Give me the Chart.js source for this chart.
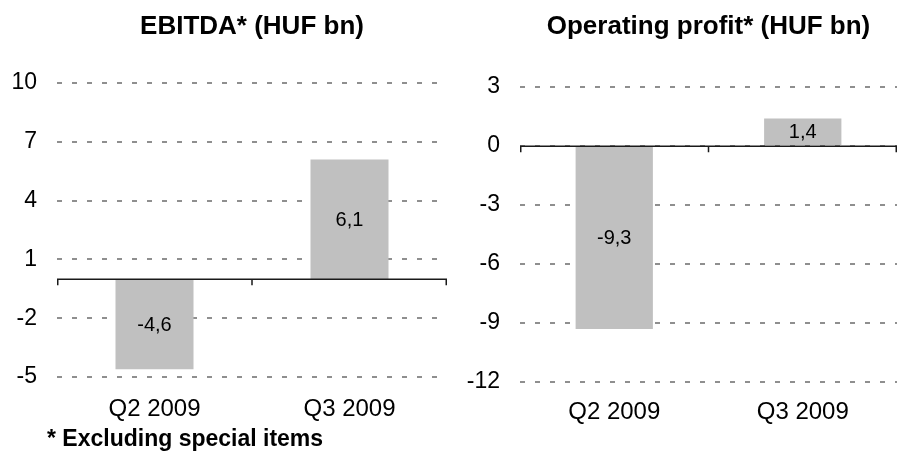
<!DOCTYPE html>
<html>
<head>
<meta charset="utf-8">
<script src="https://cdn.jsdelivr.net/npm/chart.js@4/dist/chart.umd.min.js"></script>
<style>
  html, body { margin: 0; padding: 0; background: #fff; }
  #wrap { position: relative; width: 897px; height: 451px; overflow: hidden; }
  #c1 { position: absolute; left: 0; top: 0; }
  #c2 { position: absolute; left: 450px; top: 0; }
</style>
</head>
<body>
<div id="wrap">
  <canvas id="c1" width="450" height="451"></canvas>
  <canvas id="c2" width="447" height="451"></canvas>
</div>
<script>
// ---- data ----
const categories = ['Q2 2009', 'Q3 2009'];
const ebitdaValues = [-4.6, 6.1];
const opProfitValues = [-9.3, 1.4];
const ebitdaTicks = { min: -5, max: 10, step: 3 };
const opProfitTicks = { min: -12, max: 3, step: 3 };
const ebitdaTitle = 'EBITDA* (HUF bn)';
const opProfitTitle = 'Operating profit* (HUF bn)';
const footnote = '* Excluding special items';

const FONT = "'Liberation Sans', Arial, Helvetica, sans-serif";

function fmt(v) { return v.toFixed(1).replace('.', ','); }

const decorPlugin = {
  id: 'decor',
  afterDatasetsDraw(chart, args, opts) {
    const ctx = chart.ctx;
    const ca = chart.chartArea;
    const y = chart.scales.y;
    const y0 = Math.round(y.getPixelForValue(0)) + 0.25;
    ctx.save();
    // zero axis line
    ctx.strokeStyle = '#1a1a1a';
    ctx.lineWidth = 1.5;
    ctx.beginPath();
    ctx.moveTo(ca.left, y0);
    ctx.lineTo(ca.right, y0);
    // tick marks at category boundaries
    const n = chart.data.labels.length;
    const step = (ca.right - ca.left) / n;
    for (let i = 0; i <= n; i++) {
      let px = ca.left + i * step;
      if (i === 0) px += 0.75;
      if (i === n) px -= 0.75;
      ctx.moveTo(px, y0);
      ctx.lineTo(px, y0 + 6);
    }
    ctx.stroke();
    // data labels
    ctx.fillStyle = '#000';
    ctx.font = '20px ' + FONT;
    ctx.textAlign = 'center';
    ctx.textBaseline = 'middle';
    const meta = chart.getDatasetMeta(0);
    meta.data.forEach((bar, i) => {
      const v = chart.data.datasets[0].data[i];
      const cy = (bar.y + bar.base) / 2;
      ctx.fillText(fmt(v), bar.x, cy + 1);
    });
    // title
    ctx.font = 'bold 26px ' + FONT;
    ctx.textBaseline = 'alphabetic';
    ctx.fillText(opts.title, (ca.left + ca.right) / 2, 34);
    // footnote
    if (opts.footnote) {
      ctx.textAlign = 'left';
      ctx.font = 'bold 23px ' + FONT;
      ctx.fillText(opts.footnote, 47, 446);
    }
    ctx.restore();
  }
};

function makeChart(id, values, t, title, yWidth, xHeight, padTop, padRight, barPct, labelPad, foot) {
  return new Chart(document.getElementById(id), {
    type: 'bar',
    data: {
      labels: categories,
      datasets: [{
        data: values,
        backgroundColor: '#c0c0c0',
        borderWidth: 0,
        categoryPercentage: 1,
        barPercentage: barPct
      }]
    },
    options: {
      responsive: false,
      animation: false,
      devicePixelRatio: 1,
      layout: { padding: { top: padTop, right: padRight, left: 0, bottom: 0 } },
      plugins: {
        legend: { display: false },
        tooltip: { enabled: false },
        title: { display: false },
        decor: { title: title, footnote: foot }
      },
      scales: {
        x: {
          type: 'category',
          offset: true,
          grid: { display: false, drawTicks: false },
          border: { display: false },
          ticks: { color: '#000', font: { family: FONT, size: 24 }, padding: labelPad, maxRotation: 0 },
          afterFit(s) { s.height = xHeight; }
        },
        y: {
          min: t.min, max: t.max,
          grid: {
            color: '#8f8f8f',
            lineWidth: 2,
            drawTicks: false,
            tickLength: 0
          },
          border: { display: false, dash: [5, 10] },
          ticks: {
            stepSize: t.step,
            color: '#000',
            padding: 20,
            font: { family: FONT, size: 23 },
            callback: v => String(v)
          },
          afterFit(s) { s.width = yWidth; }
        }
      }
    },
    plugins: [decorPlugin]
  });
}

makeChart('c1', ebitdaValues, ebitdaTicks, ebitdaTitle, 57, 74, 83, 3, 0.4, 18, footnote);
makeChart('c2', opProfitValues, opProfitTicks, opProfitTitle, 70, 69, 87, 0, 0.41, 16, null);
</script>
</body>
</html>
